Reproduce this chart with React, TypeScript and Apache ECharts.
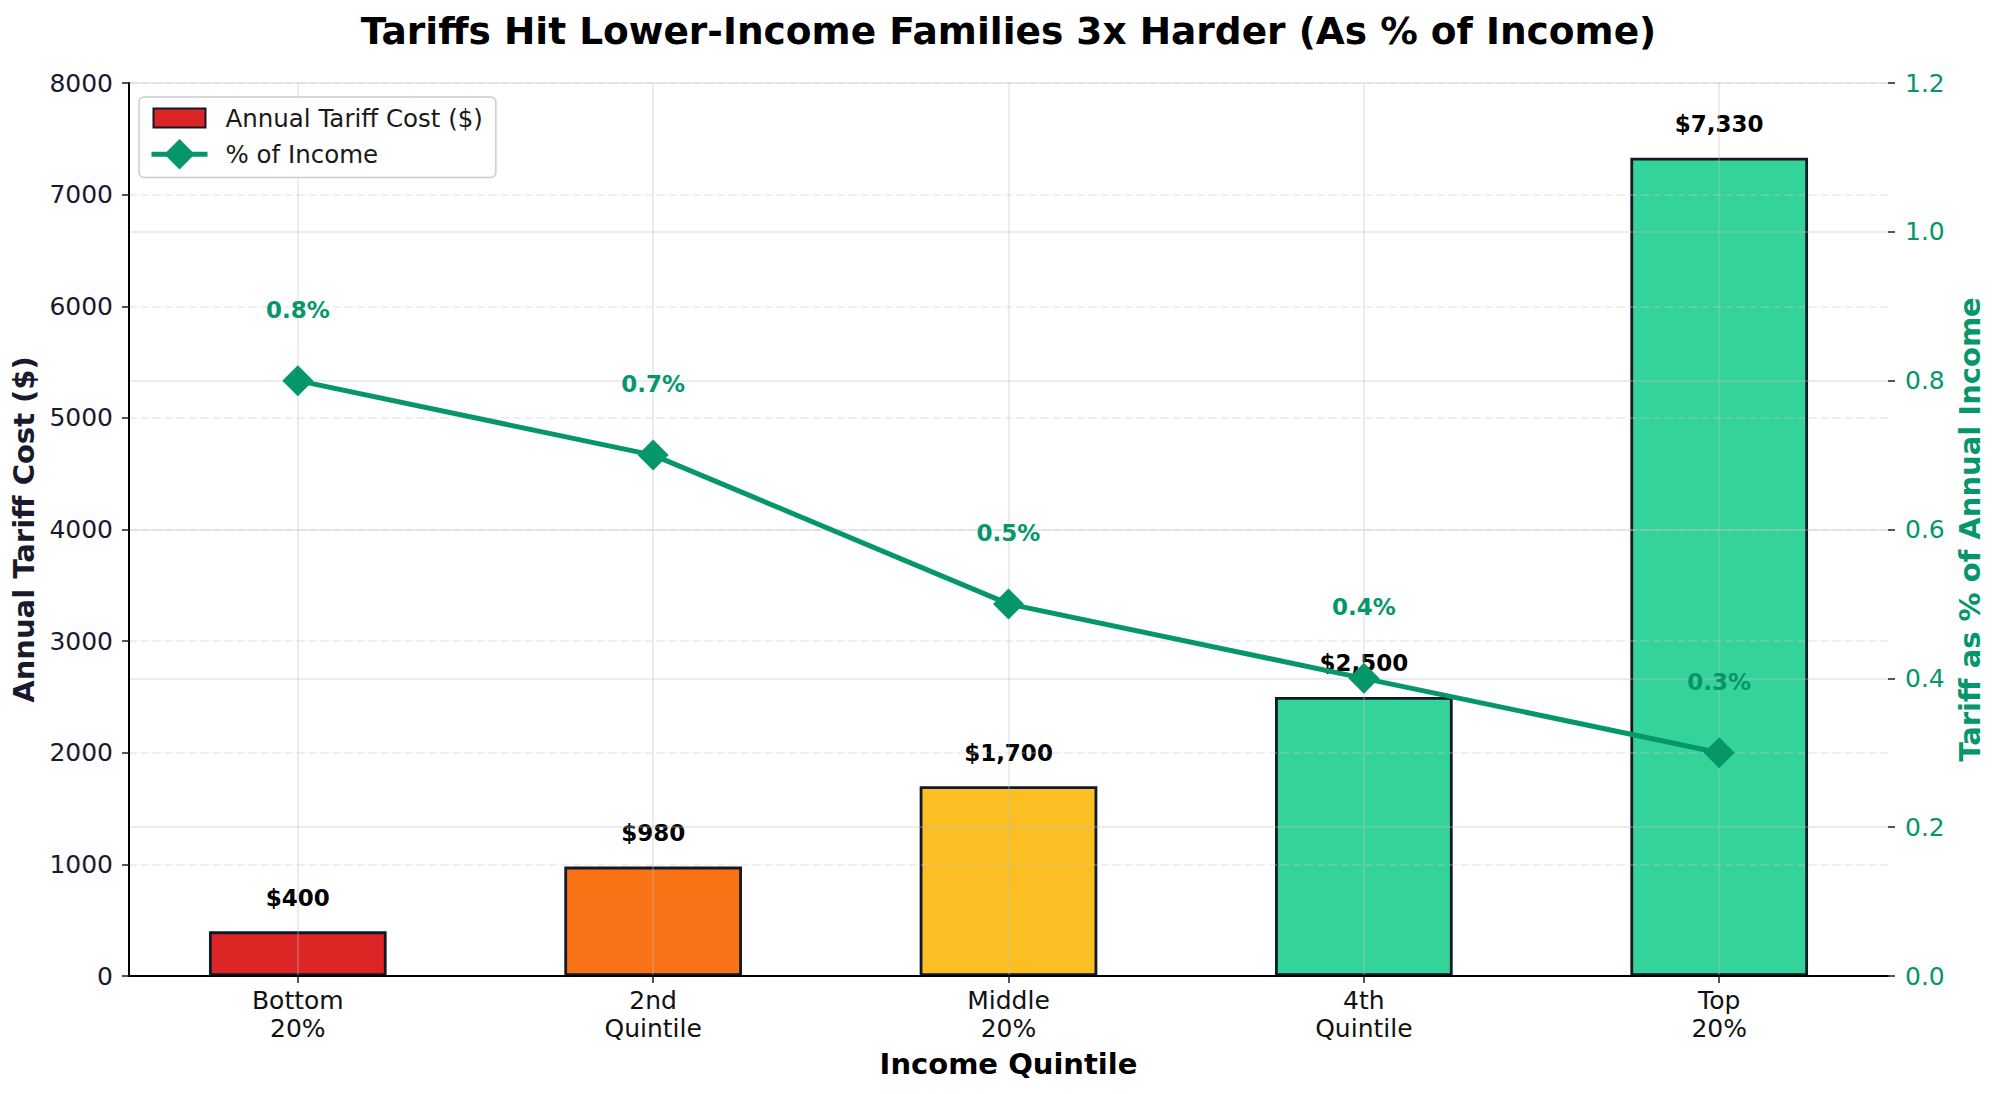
import React, { useEffect, useRef } from "react";
import * as echarts from "echarts";

const titleText = "Tariffs Hit Lower-Income Families 3x Harder (As % of Income)";
const categories = ["Bottom\n20%", "2nd\nQuintile", "Middle\n20%", "4th\nQuintile", "Top\n20%"];
const tariffCost = [400, 980, 1700, 2500, 7330];
const pctIncome = [0.8, 0.7, 0.5, 0.4, 0.3];
const barColors = ["#dc2626", "#f97316", "#fbbf24", "#34d399", "#34d399"];
const barSeriesName = "Annual Tariff Cost ($)";
const lineSeriesName = "% of Income";
const leftAxisName = "Annual Tariff Cost ($)";
const rightAxisName = "Tariff as % of Annual Income";
const xAxisName = "Income Quintile";

const FONT = "DejaVu Sans";
const W = 1994;
const H = 1094;
const GRID = { left: 129, right: 106, top: 83, bottom: 118 };
const X_MIN = -0.475;
const X_MAX = 4.475;
const GREEN = "#059669";
const DARK = "#1a1a2e";
// legend bar icon: rectangle inside a 56x38 box (the lone moves fix the box size)
const BAR_LEGEND_ICON = "path://M0,0 M2,9.5 L54,9.5 L54,28.5 L2,28.5 Z M56,38";

export default function App() {
  const ref = useRef<HTMLDivElement>(null);
  useEffect(() => {
    const chart = echarts.init(ref.current as HTMLDivElement, null, { renderer: "svg" });
    const plotW = W - GRID.left - GRID.right;
    const barWidth = (0.5 * plotW) / (X_MAX - X_MIN);
    const idx = categories.map((_, i) => i);
    const option: any = {
      animation: false,
      backgroundColor: "#ffffff",
      textStyle: { fontFamily: FONT },
      title: {
        text: titleText,
        left: GRID.left + plotW / 2,
        top: 12,
        textAlign: "center",
        padding: 0,
        textStyle: { fontFamily: FONT, fontSize: 37.5, fontWeight: "bold", color: "#000" },
      },
      legend: {
        orient: "vertical",
        left: 139,
        top: 97,
        padding: [1, 13, 8, 10],
        itemWidth: 56,
        itemHeight: 38,
        itemGap: 1,
        backgroundColor: "rgba(255,255,255,0.85)",
        borderColor: "#cccccc",
        borderWidth: 1.5,
        borderRadius: 5,
        lineStyle: { width: "inherit" },
        textStyle: { fontFamily: FONT, fontSize: 24.5, color: "#1a1a1a", padding: [0, 0, 0, 13] },
        data: [{ name: barSeriesName, icon: BAR_LEGEND_ICON }, { name: lineSeriesName }],
      },
      grid: { ...GRID, containLabel: false },
      xAxis: {
        type: "value",
        min: X_MIN,
        max: X_MAX,
        z: 3,
        name: xAxisName,
        nameLocation: "middle",
        nameGap: 73,
        nameTextStyle: { fontFamily: FONT, fontSize: 29, fontWeight: "bold", color: "#000" },
        axisLine: { show: true, onZero: false, lineStyle: { color: "#000", width: 2 } },
        axisTick: { show: true, customValues: idx, length: 7, lineStyle: { color: DARK, width: 1.5 } },
        axisLabel: {
          customValues: idx,
          formatter: (v: number) => categories[Math.round(v)] ?? "",
          fontFamily: FONT,
          fontSize: 25,
          lineHeight: 28,
          color: "#111",
          margin: 10,
        },
        splitLine: { show: true, lineStyle: { color: "rgba(190,190,190,0.4)", width: 1.5 } },
      },
      yAxis: [
        {
          type: "value",
          position: "left",
          min: 0,
          max: 8000,
          interval: 1000,
          z: 3,
          name: leftAxisName,
          nameLocation: "middle",
          nameRotate: 90,
          nameGap: 82,
          nameTextStyle: { fontFamily: FONT, fontSize: 29, fontWeight: "bold", color: DARK },
          axisLine: { show: true, onZero: false, lineStyle: { color: "#000", width: 2 } },
          axisTick: { show: true, length: 7, lineStyle: { color: DARK, width: 1.5 } },
          axisLabel: {
            fontFamily: FONT,
            fontSize: 25,
            color: DARK,
            margin: 16,
            formatter: (v: number) => String(v),
          },
          splitLine: { show: true, lineStyle: { color: "rgba(200,200,200,0.4)", width: 1.5, type: [8, 4] } },
        },
        {
          type: "value",
          position: "right",
          min: 0,
          max: 1.2,
          interval: 0.2,
          z: 3,
          name: rightAxisName,
          nameLocation: "middle",
          nameRotate: 90,
          nameGap: 48,
          nameTextStyle: { fontFamily: FONT, fontSize: 29, fontWeight: "bold", color: GREEN },
          axisLine: { show: false, onZero: false },
          axisTick: { show: true, length: 7, lineStyle: { color: DARK, width: 1.5 } },
          axisLabel: {
            fontFamily: FONT,
            fontSize: 25,
            color: GREEN,
            margin: 17,
            formatter: (v: number) => v.toFixed(1),
          },
          splitLine: { show: true, lineStyle: { color: "rgba(190,190,190,0.4)", width: 1.5 } },
        },
      ],
      series: [
        {
          name: barSeriesName,
          type: "bar",
          xAxisIndex: 0,
          yAxisIndex: 0,
          barWidth,
          z: 2,
          itemStyle: { color: barColors[0], borderColor: "#111827", borderWidth: 2.8 },
          data: tariffCost.map((v, i) => ({ value: [i, v], itemStyle: { color: barColors[i] } })),
          label: {
            show: true,
            position: "top",
            distance: 22,
            fontFamily: FONT,
            fontSize: 23,
            fontWeight: "bold",
            color: "#000",
            formatter: (p: any) => "$" + Number(p.value[1]).toLocaleString("en-US"),
          },
        },
        {
          name: lineSeriesName,
          type: "line",
          xAxisIndex: 0,
          yAxisIndex: 1,
          z: 5,
          symbol: "diamond",
          symbolSize: 31,
          lineStyle: { color: GREEN, width: 5 },
          itemStyle: { color: GREEN },
          data: pctIncome.map((v, i) => [i, v]),
          label: {
            show: true,
            position: "top",
            distance: 44,
            fontFamily: FONT,
            fontSize: 23,
            fontWeight: "bold",
            color: GREEN,
            formatter: (p: any) => Number(p.value[1]).toFixed(1) + "%",
          },
        },
      ],
    };
    chart.setOption(option);
    return () => chart.dispose();
  }, []);
  return (
    <div
      ref={ref}
      style={{ position: "fixed", left: 0, top: 0, width: W, height: H, background: "#fff" }}
    />
  );
}
